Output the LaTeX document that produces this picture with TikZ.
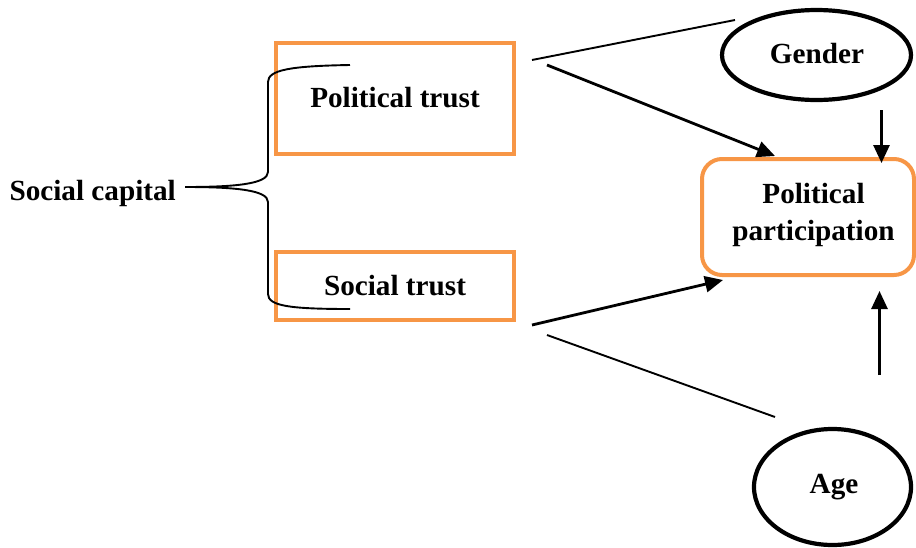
\documentclass[tikz,border=0pt]{standalone}
\usepackage{fontspec}
\setmainfont{Liberation Serif}
\usetikzlibrary{shapes.geometric,arrows.meta}
\definecolor{boxorange}{HTML}{F79646}
\tikzset{
  lbl/.style={font=\bfseries\fontsize{29.2}{37}\selectfont, inner sep=0pt},
  trustbox/.style={draw=boxorange, line width=4pt, minimum width=238pt, inner sep=0pt},
  oval/.style={draw=black, ellipse, line width=4.2pt, inner sep=0pt},
  thinln/.style={line width=1.9pt},
  arr/.style={line width=2.8pt, -{Triangle[length=18pt,width=16pt]}},
  bracestyle/.style={line width=1.9pt}
}
\begin{document}
\begin{tikzpicture}[x=1pt,y=-1pt]
\useasboundingbox (0,0) rectangle (916,547);
% boxes
\node[trustbox, minimum height=111pt] (pt) at (395,98.5) {};
\node[trustbox, minimum height=68pt] (st) at (395,286) {};
\node[draw=boxorange, line width=4pt, rounded corners=20pt, minimum width=212pt, minimum height=116pt, inner sep=0pt] (pp) at (808,217) {};
\node[oval, minimum width=189pt, minimum height=90pt] (gender) at (816.5,55) {};
\node[oval, minimum width=157pt, minimum height=116pt] (age) at (832.5,487) {};
% texts
\node[lbl, anchor=base] (ptt) at (395,107) {Political trust};
\node[lbl, anchor=base] (stt) at (395,295) {Social trust};
\node[lbl, anchor=base] (gt) at (817,63) {Gender};
\node[lbl, anchor=base] (at) at (834,493) {Age};
\node[lbl, align=center] (ppt) at (813.5,214.6) {Political\\participation};
\node[lbl, anchor=base east] (sc) at (176,200) {Social capital};
% brace
\coordinate (btop) at (350,65);
\coordinate (bbot) at (350,309);
\coordinate (btip) at (185,187);
\draw[bracestyle] (btop) .. controls (290,66) and (268,70) .. (268,82) -- (268,172)
  .. controls (268,184) and (235,187) .. (btip)
  .. controls (235,187) and (268,190) .. (268,202) -- (268,294)
  .. controls (268,306) and (290,309) .. (bbot);
% connectors
\coordinate (p1) at (532,60);
\coordinate (g1) at (735,20);
\coordinate (p2) at (547,65);
\coordinate (pp1) at (775,156);
\coordinate (s1) at (532,325);
\coordinate (pp2) at (723,280);
\coordinate (s2) at (547,335);
\coordinate (a1) at (775,417);
\coordinate (g2) at (881.5,110);
\coordinate (pp3) at (881.5,163);
\coordinate (a2) at (879.5,375);
\coordinate (pp4) at (879.5,291);
\draw[thinln] (p1) -- (g1);
\draw[arr] (p2) -- (pp1);
\draw[arr] (s1) -- (pp2);
\draw[thinln] (s2) -- (a1);
\draw[arr] (g2) -- (pp3);
\draw[arr] (a2) -- (pp4);
\end{tikzpicture}
\end{document}
